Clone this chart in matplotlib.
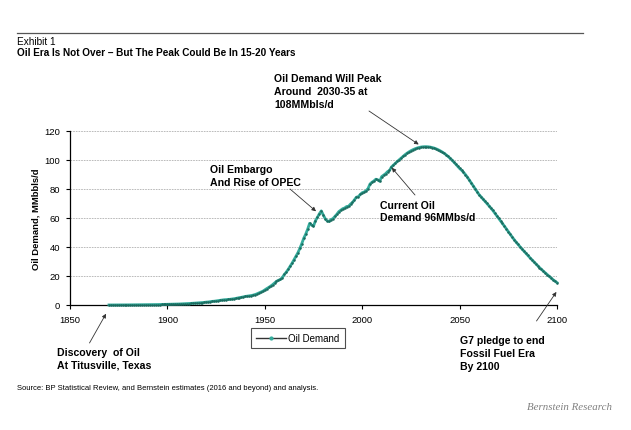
import matplotlib
matplotlib.use('Agg')
import matplotlib.pyplot as plt
import numpy as np
from matplotlib.lines import Line2D

FIG_W, FIG_H = 631, 431

START_YEAR = 1870
END_YEAR = 2100

# yearly oil demand, MMbbls/d
demand_1870_1909 = [
    0.02, 0.02, 0.03, 0.03, 0.04, 0.04, 0.05, 0.06, 0.07, 0.08,
    0.09, 0.10, 0.11, 0.12, 0.13, 0.14, 0.15, 0.16, 0.17, 0.19,
    0.21, 0.23, 0.25, 0.27, 0.29, 0.31, 0.34, 0.37, 0.40, 0.43,
    0.45, 0.48, 0.52, 0.56, 0.60, 0.64, 0.70, 0.76, 0.82, 0.88,
]
demand_1910_1949 = [
    0.95, 1.0, 1.1, 1.2, 1.3, 1.4, 1.5, 1.6, 1.7, 1.8,
    2.0, 2.1, 2.3, 2.5, 2.6, 2.8, 3.0, 3.2, 3.4, 3.6,
    3.7, 3.8, 3.9, 4.1, 4.3, 4.5, 4.8, 5.1, 5.3, 5.6,
    5.9, 6.1, 6.3, 6.5, 6.8, 7.2, 7.7, 8.3, 8.9, 9.5,
]
demand_1950_1989 = [
    10.4, 11.3, 12.1, 13.0, 14.0, 15.2, 16.3, 17.0, 17.6, 18.9,
    21.0, 22.6, 24.5, 26.6, 28.8, 31.2, 33.6, 36.0, 39.0, 42.3,
    46.0, 48.8, 52.2, 56.2, 55.0, 54.3, 58.0, 60.3, 62.8, 64.8,
    62.0, 59.5, 58.0, 57.5, 58.8, 59.5, 61.0, 62.5, 64.3, 65.3,
]
demand_1990_2015 = [
    66.3, 66.8, 67.8, 68.0, 69.5, 70.6, 72.4, 74.2, 74.6, 76.1,
    77.3, 77.8, 78.7, 80.2, 83.3, 84.5, 85.4, 86.6, 86.2, 85.2,
    88.4, 89.4, 90.4, 91.8, 92.6, 95.0,
]
# Bernstein estimates, 2016 and beyond
demand_2016_2059 = [
    96.3, 97.6, 98.8, 100.0,
    101.2, 102.4, 103.5, 104.5, 105.4, 106.2, 106.9, 107.5, 108.0, 108.4,
    108.7, 108.9, 109.0, 109.0, 108.9, 108.7, 108.4, 108.0, 107.5, 106.9,
    106.2, 105.4, 104.5, 103.5, 102.4, 101.2, 99.9, 98.5, 97.0, 95.5,
    94.0, 92.8, 91.4, 89.8, 88.0, 86.0, 84.0, 82.0, 80.0, 78.0,
]
demand_2060_2100 = [
    76.0, 74.5, 73.0, 71.5, 70.0, 68.4, 66.8, 65.2, 63.4, 61.6,
    59.8, 58.0, 56.2, 54.3, 52.4, 50.5, 48.6, 46.8, 45.0, 43.3,
    41.7, 40.1, 38.6, 37.1, 35.6, 34.1, 32.7, 31.3, 29.9, 28.5,
    27.1, 25.8, 24.5, 23.3, 22.1, 20.9, 19.7, 18.5, 17.4, 16.4,
    15.4,
]

x_ticks = [1850, 1900, 1950, 2000, 2050, 2100]
y_ticks = [0, 20, 40, 60, 80, 100, 120]

LINE_COLOR = '#33ab9b'
MARKER_COLOR = '#1b6a5e'
TEXT_FONT = ['Liberation Sans', 'DejaVu Sans']
NOTE_SIZE = 7.6
NOTE_SPACING = 1.32


def fx(px):
    return px / FIG_W


def fy(py):
    return 1 - py / FIG_H


years = np.arange(START_YEAR, END_YEAR + 1)
demand = np.array(demand_1870_1909 + demand_1910_1949 + demand_1950_1989
                  + demand_1990_2015 + demand_2016_2059 + demand_2060_2100)

plt.rcParams['font.family'] = TEXT_FONT

fig = plt.figure(figsize=(FIG_W / 100, FIG_H / 100), dpi=100)
ax = fig.add_axes([fx(70), fy(306), fx(557) - fx(70), fy(131.7) - fy(306)])

ax.plot(years, demand, color=LINE_COLOR, lw=2.0, marker='o', markersize=0.8,
        markerfacecolor=MARKER_COLOR, markeredgecolor=MARKER_COLOR, clip_on=False, zorder=3)

ax.set_xlim(1850, 2100)
ax.set_ylim(0, 120)
ax.set_xticks(x_ticks)
ax.set_yticks(y_ticks)
ax.tick_params(axis='both', labelsize=6.8, length=3, width=0.8, direction='out', pad=4)
for side in ('top', 'right'):
    ax.spines[side].set_visible(False)
for side in ('left', 'bottom'):
    ax.spines[side].set_linewidth(0.9)
ax.yaxis.grid(True, linestyle=(0, (2, 1.2)), color='#b0b0b0', lw=0.6)
ax.set_axisbelow(True)
ax.set_ylabel('Oil Demand, MMbbls/d', fontsize=6.8, fontweight='bold', labelpad=3)

# header
fig.add_artist(Line2D([fx(17), fx(583)], [fy(34), fy(34)], color='#555555', lw=0.9))
fig.text(fx(17), fy(42), 'Exhibit 1', fontsize=7.2, va='center', ha='left')
fig.text(fx(17), fy(53), 'Oil Era Is Not Over \u2013 But The Peak Could Be In 15-20 Years',
         fontsize=7.2, fontweight='bold', va='center', ha='left')

arrow = dict(arrowstyle='-|>', color='#333333', lw=0.6, mutation_scale=6, shrinkA=0, shrinkB=0)


def note(text, px, py):
    fig.text(fx(px), fy(py), text, fontsize=NOTE_SIZE, fontweight='bold',
             ha='left', va='center', linespacing=NOTE_SPACING)


def pointer(xy, px, py):
    ax.annotate('', xy=xy, xytext=(fx(px), fy(py)), arrowprops=arrow,
                xycoords='data', textcoords='figure fraction', annotation_clip=False)


pointer((2029, 110.5), 369, 112)
note('Oil Demand Will Peak\nAround  2030-35 at\n108MMbls/d', 274, 92)

pointer((1976.3, 64.5), 290, 190)
note('Oil Embargo\nAnd Rise of OPEC', 210.5, 176.5)

pointer((2015.2, 94.5), 415, 196)
note('Current Oil\nDemand 96MMbs/d', 380, 212)

pointer((1868.5, -6), 89.5, 344)
note('Discovery  of Oil\nAt Titusville, Texas', 57, 359)

pointer((2099.7, 9), 536.5, 322)
note('G7 pledge to end\nFossil Fuel Era\nBy 2100', 460, 354)

handle = Line2D([], [], color='#333333', lw=1.0, marker='o', markersize=2,
                markerfacecolor=LINE_COLOR, markeredgecolor=LINE_COLOR)
leg = fig.legend([handle], ['Oil Demand'], loc='center', bbox_to_anchor=(fx(298), fy(339)),
                 fontsize=7.0, frameon=True, fancybox=False, handlelength=3.0,
                 handletextpad=0.3, borderpad=0.5, borderaxespad=0)
leg.get_frame().set_edgecolor('#222222')
leg.get_frame().set_linewidth(0.8)

fig.text(fx(17), fy(389), 'Source: BP Statistical Review, and Bernstein estimates (2016 and beyond) and analysis.',
         fontsize=5.5, ha='left', va='center')
fig.text(fx(612), fy(408), 'Bernstein Research', fontsize=7.8, style='italic', color='#808080',
         family=['Liberation Serif', 'DejaVu Serif'], ha='right', va='center')

fig.savefig('out.png', dpi=100)
